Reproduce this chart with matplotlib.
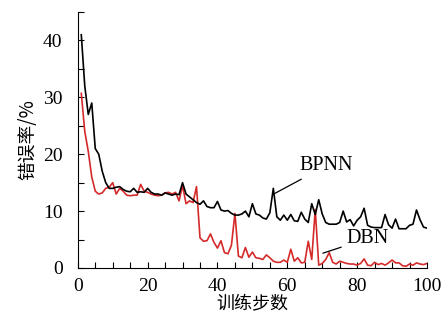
import matplotlib
matplotlib.use("Agg")
from matplotlib import pyplot as plt
from matplotlib.ticker import MultipleLocator
import numpy as np

steps = np.arange(1, 101)
bpnn = [41, 32, 27, 29, 21, 20, 17, 15, 14, 14,
        14.2, 14.3, 13.8, 13.5, 13.4, 14, 13.3, 13.4, 13.3, 14,
        13.3, 13, 13, 12.8, 13.2, 13, 12.8, 13, 12.9, 15,
        13, 12.5, 12, 11.5, 11.2, 11.8, 10.8, 10.6, 10.6, 11.7,
        10.2, 10, 10.1, 9.6, 9.3, 9.3, 9.5, 10, 9, 11.3,
        9.5, 9.3, 8.8, 8.6, 9.7, 14, 9, 8.4, 9.3, 8.4,
        9.4, 8.3, 8.2, 9.8, 8.6, 8, 11.3, 9.4, 12, 9.5,
        8, 7.7, 7.7, 7.7, 8, 10, 8.1, 8.5, 7.4, 8.4,
        9, 10.5, 7.5, 7.2, 7.1, 7.1, 7.1, 9.4, 7.6, 7,
        8.6, 6.9, 6.9, 6.9, 7.5, 7.7, 10.2, 8.5, 7.2, 7]
dbn = [30.7, 24, 20.5, 16, 13.5, 13, 13.2, 14, 14.2, 15,
       13, 14, 13.5, 12.8, 12.7, 12.8, 12.8, 14.7, 13.5, 13.3,
       13, 12.8, 12.7, 12.8, 13.2, 13.3, 13, 13.3, 11.8, 14.5,
       11.3, 11.8, 11.5, 14.3, 5.3, 4.7, 4.8, 6, 4.5, 3.5,
       4.8, 2.7, 2.5, 4, 9.6, 2.1, 1.8, 3.6, 1.9, 2.8,
       1.8, 1.7, 1.5, 2.3, 1.8, 1.2, 1, 1, 1.4, 1,
       3.3, 1.2, 1.8, 0.9, 1, 4.7, 1.5, 10.3, 0.5, 0.8,
       1.5, 2.7, 1, 0.7, 1.2, 1, 0.8, 0.7, 0.7, 0.5,
       0.8, 1.6, 0.5, 0.4, 1, 0.6, 0.8, 0.5, 0.9, 1.4,
       0.9, 0.9, 0.4, 0.3, 0.7, 0.5, 0.9, 0.7, 0.6, 0.8]

serif = ['Liberation Serif', 'DejaVu Serif']
cjk = ['Noto Sans CJK SC', 'DejaVu Sans']

fig = plt.figure(figsize=(4.42, 3.2), dpi=100)
ax = fig.add_axes([0.176, 0.1625, 0.79, 0.80])

ax.plot(steps, dbn, color='#d42a2a', lw=1.2)
ax.plot(steps, bpnn, color='black', lw=1.2)

ax.set_xlim(0, 100)
ax.set_ylim(0, 45)
ax.spines['top'].set_visible(False)
ax.spines['right'].set_visible(False)
ax.xaxis.set_major_locator(MultipleLocator(20))
ax.xaxis.set_minor_locator(MultipleLocator(5))
ax.yaxis.set_major_locator(MultipleLocator(10))
ax.yaxis.set_minor_locator(MultipleLocator(5))
ax.tick_params(which='both', direction='in', length=4, width=0.8)
ax.tick_params(axis='x', which='major', pad=7)
ax.tick_params(axis='y', which='major', pad=11)
for lab in ax.get_xticklabels() + ax.get_yticklabels():
    lab.set_family(serif)
    lab.set_fontsize(14)

ax.set_xlabel('训练步数', family=cjk, fontsize=13, labelpad=0)
ax.set_ylabel('错误率/%', family=cjk, fontsize=13.5, labelpad=3)

ax.annotate('BPNN', xy=(56.4, 13.1), xytext=(63.6, 18), family=serif,
            fontsize=14.5, va='center', ha='left',
            arrowprops=dict(arrowstyle='-', color='black', lw=0.9, shrinkA=2, shrinkB=0))
ax.annotate('DBN', xy=(70.2, 2.6), xytext=(77, 5.2), family=serif,
            fontsize=14.5, va='center', ha='left',
            arrowprops=dict(arrowstyle='-', color='black', lw=0.9, shrinkA=2, shrinkB=0))

fig.savefig('out.png', dpi=100)
